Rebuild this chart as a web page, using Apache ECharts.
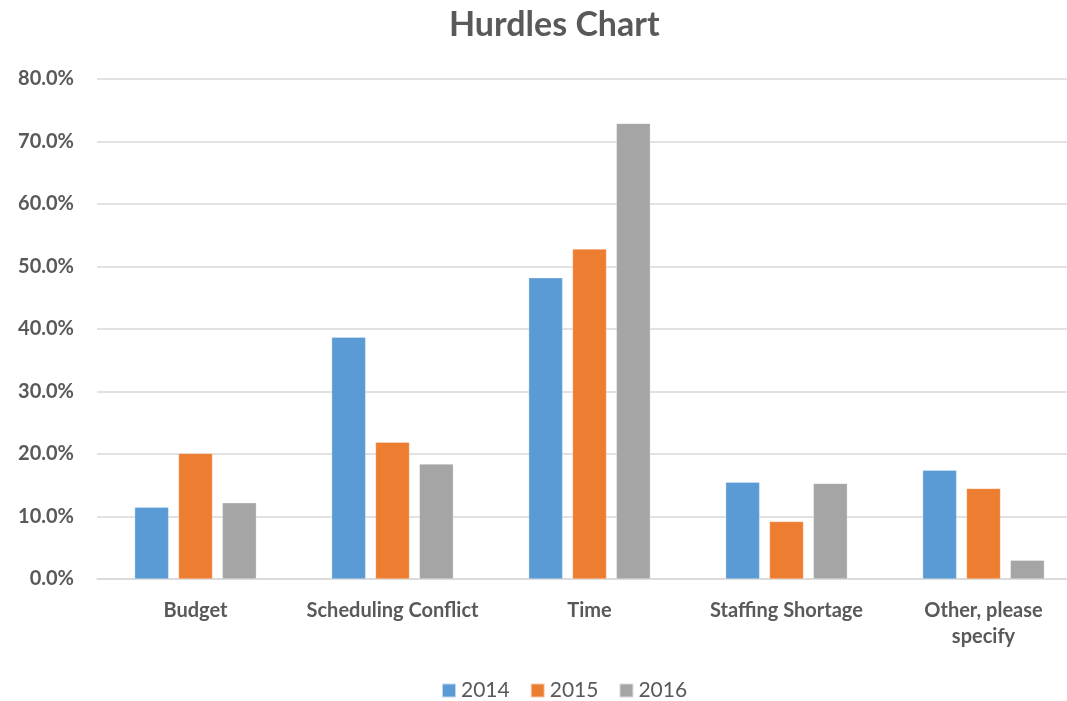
<!DOCTYPE html>
<html><head><meta charset="utf-8">
<script src="https://cdn.jsdelivr.net/npm/echarts@6/dist/echarts.min.js"></script>
<style>html,body{margin:0;padding:0;background:#fff;overflow:hidden;width:1067px;height:701px}#c{width:1084px;height:701px}</style>
</head><body><div id="c"></div>
<script>
var categories = ['Budget', 'Scheduling Conflict', 'Time', 'Staffing Shortage', 'Other, please\nspecify'];
var seriesNames = ['2014', '2015', '2016'];
var values2014 = [11.5, 38.7, 48.2, 15.5, 17.4];
var values2015 = [20.1, 21.9, 52.8, 9.2, 14.5];
var values2016 = [12.2, 18.4, 72.9, 15.3, 3.0];
var colors = ['#5B9BD5', '#ED7D31', '#A5A5A5'];
var font = 'Lato, "Open Sans", sans-serif';

var chart = echarts.init(document.getElementById('c'));
var data = [values2014, values2015, values2016];
chart.setOption({
  animation: false,
  color: colors,
  title: {
    text: 'Hurdles Chart', left: 444, top: 3,
    textStyle: {fontFamily: font, fontSize: 34, fontWeight: 'bold', color: '#595959'}
  },
  legend: {
    bottom: -5, left: 436, itemWidth: 14, itemHeight: 14, itemGap: 20,
    icon: 'rect', data: seriesNames,
    textStyle: {fontFamily: font, fontSize: 21, color: '#595959'}
  },
  grid: {left: 97, right: 2, top: 79, bottom: 122, containLabel: false},
  xAxis: {
    type: 'category', data: categories,
    axisLine: {lineStyle: {color: '#D9D9D9', width: 1.5}},
    axisTick: {show: false},
    axisLabel: {fontFamily: font, fontSize: 20, fontWeight: 'bold', color: '#595959', margin: 19, lineHeight: 26, interval: 0}
  },
  yAxis: {
    type: 'value', min: 0, max: 80, interval: 10,
    axisLine: {show: false}, axisTick: {show: false},
    splitLine: {lineStyle: {color: '#D9D9D9', width: 1.5}},
    axisLabel: {fontFamily: font, fontSize: 20, fontWeight: 'bold', color: '#595959', margin: 23,
      formatter: function (v) { return v.toFixed(1) + '%'; }}
  },
  series: seriesNames.map(function (n, i) {
    return {
      name: n, type: 'bar', data: data[i], barWidth: 34, barGap: '29%', barCategoryGap: '37%',
      itemStyle: {color: colors[i], borderColor: 'rgba(255,255,255,0.6)', borderWidth: 0.5}
    };
  })
});
</script></body></html>
